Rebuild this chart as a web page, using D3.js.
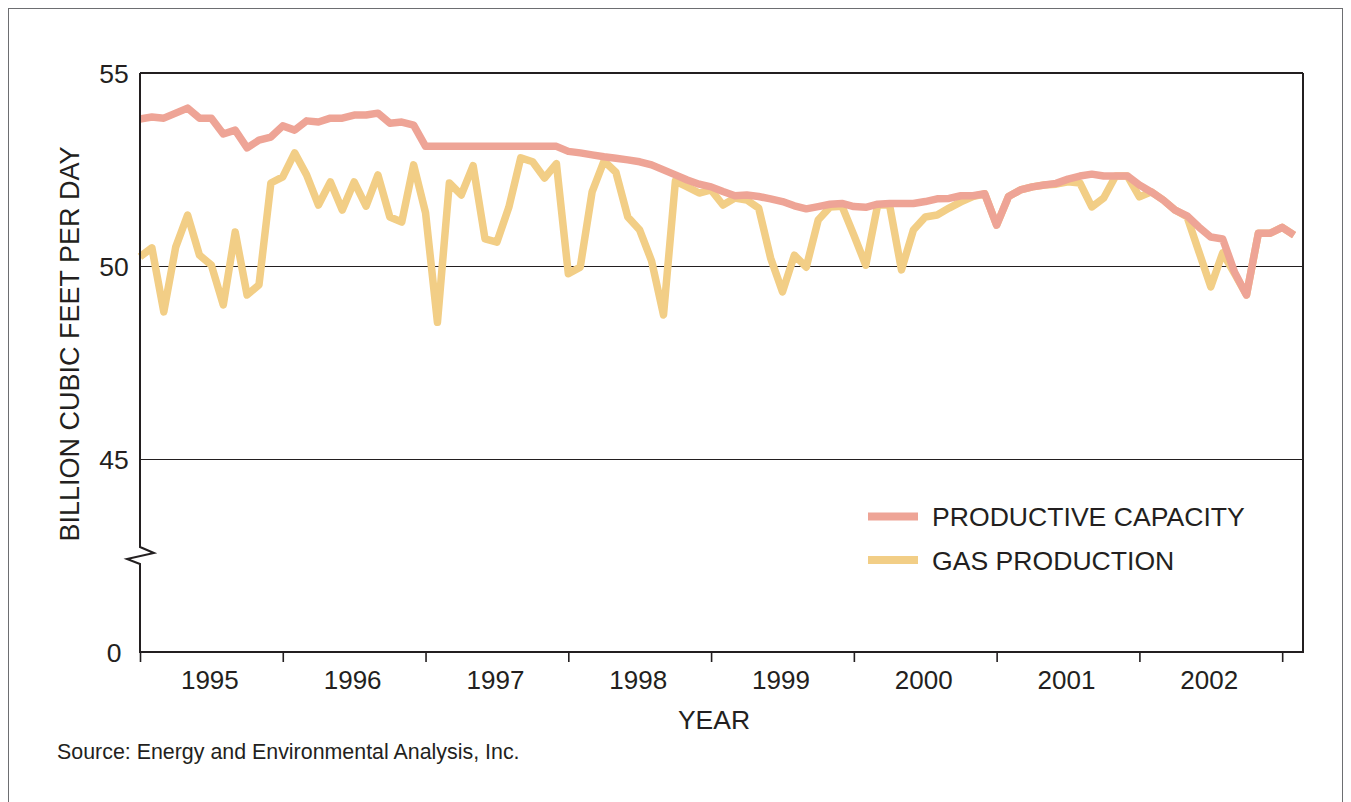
<!DOCTYPE html>
<html>
<head>
<meta charset="utf-8">
<script src="https://cdn.jsdelivr.net/npm/d3@7"></script>
<style>
  html, body { margin: 0; padding: 0; background: #fff; }
  svg { display: block; }
  text { font-family: "Liberation Sans", Arial, Helvetica, sans-serif; fill: #231f20; }
</style>
</head>
<body>
<svg id="chart" width="1351" height="802"></svg>
<script>
// ---- data (monthly, Jan 1995 onward) ----
const firstYear = 1995;
const yearLabels = ["1995", "1996", "1997", "1998", "1999", "2000", "2001", "2002"];
const yTickValues = [0, 45, 50, 55];
const seriesNames = ["PRODUCTIVE CAPACITY", "GAS PRODUCTION"];

const productiveCapacity = [
  53.81, 53.86, 53.83, 53.96, 54.09, 53.83, 53.83, 53.42, 53.52, 53.06, 53.26, 53.34,
  53.63, 53.52, 53.76, 53.73, 53.83, 53.83, 53.91, 53.91, 53.96, 53.70, 53.73, 53.65,
  53.10, 53.10, 53.10, 53.10, 53.10, 53.10, 53.10, 53.10, 53.10, 53.10, 53.10, 53.10,
  52.97, 52.93, 52.88, 52.83, 52.79, 52.75, 52.70, 52.62, 52.49, 52.36, 52.23, 52.12,
  52.05, 51.93, 51.82, 51.84, 51.80, 51.74, 51.67, 51.56, 51.48, 51.54, 51.60, 51.62,
  51.54, 51.52, 51.60, 51.62, 51.62, 51.62, 51.67, 51.74, 51.75, 51.82, 51.82, 51.87,
  51.06, 51.80, 51.97, 52.05, 52.10, 52.14, 52.25, 52.33, 52.38, 52.33, 52.33, 52.33,
  52.10, 51.92, 51.71, 51.45, 51.30, 51.01, 50.75, 50.70, 49.84, 49.25, 50.85, 50.85,
  51.00, 50.80
];

const gasProduction = [
  50.24, 50.47, 48.81, 50.49, 51.32, 50.28, 50.02, 48.99, 50.88, 49.25, 49.51, 52.15,
  52.31, 52.93, 52.36, 51.58, 52.18, 51.45, 52.18, 51.55, 52.36, 51.27, 51.14, 52.62,
  51.38, 48.54, 52.15, 51.84, 52.60, 50.70, 50.62, 51.52, 52.80, 52.70, 52.28, 52.65,
  49.80, 49.97, 51.92, 52.72, 52.43, 51.27, 50.93, 50.13, 48.73, 52.20, 52.05, 51.89,
  51.97, 51.58, 51.76, 51.71, 51.50, 50.21, 49.33, 50.28, 49.97, 51.19, 51.53, 51.55,
  50.80, 50.02, 51.58, 51.58, 49.90, 50.93, 51.27, 51.32, 51.50, 51.66, 51.80, 51.87,
  51.06, 51.80, 51.97, 52.05, 52.10, 52.12, 52.18, 52.15, 51.53, 51.76, 52.33, 52.33,
  51.79, 51.92, 51.71, 51.45, 51.28, 50.37, 49.46, 50.34, 49.80, 49.25, 50.85, 50.85,
  51.00, 50.80
];

// ---- layout ----
const svg = d3.select("#chart");
const plotL = 140, plotR = 1303, plotT = 73, plotB = 652;
const ink = "#231f20";
const capColor = "#eea496";
const gasColor = "#f2ce86";

// outer frame
svg.append("rect").attr("x", 8.5).attr("y", 8.5).attr("width", 1334).attr("height", 820)
  .attr("fill", "none").attr("stroke", "#6d6e71").attr("stroke-width", 1);

const x = d3.scaleLinear().domain([0, 97.75]).range([plotL, plotR]);
// broken axis: 0 .. 45 compressed, 45 .. 55 expanded
const y = d3.scaleLinear().domain([0, 45, 55]).range([plotB, 459, plotT]);

// gridlines at 45 and 50
svg.append("g").selectAll("line").data([45, 50]).join("line")
  .attr("x1", plotL).attr("x2", plotR)
  .attr("y1", d => Math.round(y(d)) + 0.5).attr("y2", d => Math.round(y(d)) + 0.5)
  .attr("stroke", ink).attr("stroke-width", 1);

// data lines
const line = d3.line().x((d, i) => x(i)).y(d => y(d));
svg.append("path").datum(gasProduction).attr("d", line)
  .attr("fill", "none").attr("stroke", gasColor).attr("stroke-width", 7.5)
  .attr("stroke-linejoin", "round");
svg.append("path").datum(productiveCapacity).attr("d", line)
  .attr("fill", "none").attr("stroke", capColor).attr("stroke-width", 7.5)
  .attr("stroke-linejoin", "round");

// frame: top and right
svg.append("line").attr("x1", plotL).attr("x2", plotR).attr("y1", plotT).attr("y2", plotT)
  .attr("stroke", ink).attr("stroke-width", 2);
svg.append("line").attr("x1", plotR).attr("x2", plotR).attr("y1", plotT).attr("y2", plotB)
  .attr("stroke", ink).attr("stroke-width", 2);

// left axis with break zigzag
const brkY = 555;
svg.append("path")
  .attr("d", `M${plotL},${plotT} V${brkY - 8} L${plotL + 14},${brkY - 2} L${plotL - 13},${brkY + 4} L${plotL},${brkY + 9} V${plotB}`)
  .attr("fill", "none").attr("stroke", ink).attr("stroke-width", 2).attr("stroke-linejoin", "miter");

// bottom axis
const xAxis = d3.axisBottom(x)
  .tickValues(d3.range(0, 97, 12))
  .tickSize(10).tickFormat("");
const gx = svg.append("g").attr("transform", `translate(0,${plotB})`).call(xAxis);
gx.select(".domain").remove();
gx.selectAll(".tick line").attr("stroke", ink).attr("stroke-width", 1.6);
svg.append("line").attr("x1", plotL - 1).attr("x2", plotR + 1).attr("y1", plotB).attr("y2", plotB)
  .attr("stroke", ink).attr("stroke-width", 2.2);

// year labels centred within each year
svg.append("g").selectAll("text").data(yearLabels).join("text")
  .attr("x", (d, i) => x(i * 12 + 6) - 1.5)
  .attr("y", 689)
  .attr("text-anchor", "middle")
  .attr("font-size", 26)
  .text(d => d);

// y tick labels
svg.append("g").selectAll("text").data(yTickValues).join("text")
  .attr("x", 114)
  .attr("y", d => y(d) + 9.5)
  .attr("text-anchor", "middle")
  .attr("font-size", 26.5)
  .text(d => d);

// axis titles
svg.append("text")
  .attr("transform", `translate(79,344) rotate(-90)`)
  .attr("text-anchor", "middle").attr("font-size", 27)
  .text("BILLION CUBIC FEET PER DAY");
svg.append("text")
  .attr("x", 714).attr("y", 729).attr("text-anchor", "middle").attr("font-size", 26.5)
  .text("YEAR");

// source
svg.append("text")
  .attr("x", 57).attr("y", 759).attr("font-size", 21.4)
  .text("Source: Energy and Environmental Analysis, Inc.");

// legend
const legendColors = [capColor, gasColor];
const lg = svg.append("g").selectAll("g").data(seriesNames).join("g")
  .attr("transform", (d, i) => `translate(868,${516.5 + i * 43.5})`);
lg.append("line").attr("x1", 0).attr("x2", 50).attr("y1", 0).attr("y2", 0)
  .attr("stroke", (d, i) => legendColors[i]).attr("stroke-width", 8);
lg.append("text").attr("x", 64).attr("y", 9.5).attr("font-size", 26.6).text(d => d);
</script>
</body>
</html>
